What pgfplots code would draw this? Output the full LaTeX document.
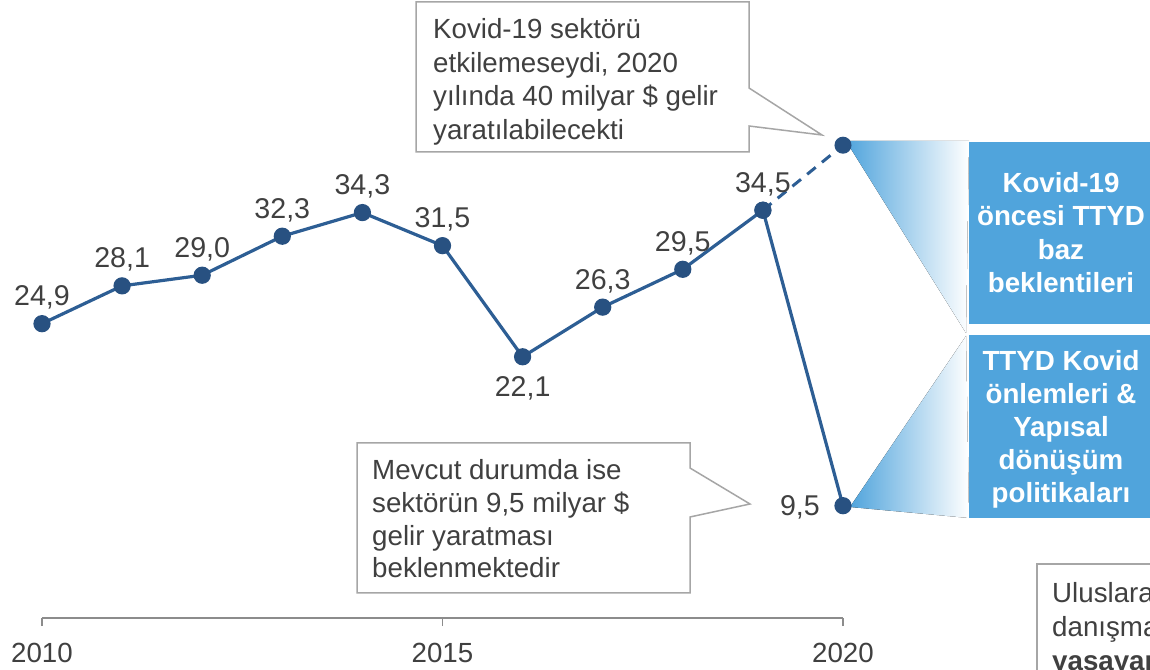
\documentclass[border=0pt]{standalone}
\usepackage{fontspec}
\setmainfont{Liberation Sans}
\usepackage{pgfplots}
\pgfplotsset{compat=1.18}
\definecolor{txt}{HTML}{404040}
\definecolor{linec}{HTML}{2D5E94}
\definecolor{markc}{HTML}{285181}
\definecolor{boxblue}{HTML}{50A4DC}
\definecolor{callgray}{HTML}{A6A6A6}
\definecolor{axgray}{HTML}{8C8C8C}
\newcommand\bigf{\fontsize{27.7bp}{33bp}\selectfont}
\newcommand\labf{\fontsize{28.6bp}{33bp}\selectfont}
\begin{document}
\begin{tikzpicture}
\path[use as bounding box] (0,0) rectangle (1150bp,670bp);
\clip (0,0) rectangle (1150bp,670bp);
% gradient wedges
\begin{scope}[x=1bp,y=-1bp,yshift=670bp]
\fill[left color=boxblue, right color=white] (846,141) -- (969,141) -- (966,333) -- cycle;
\fill[left color=boxblue, right color=white] (850,507) -- (966,336) -- (969,518) -- cycle;
\end{scope}
\begin{axis}[
  at={(42bp,52bp)}, anchor=south west,
  width=801bp, height=531.9bp, scale only axis,
  xmin=2010, xmax=2020, ymin=0, ymax=45,
  clip=false,
  axis x line*=bottom, axis y line=none,
  x axis line style={draw=axgray, line width=1.3bp},
  xtick={2010,2015,2020}, xticklabels={2010,2015,2020},
  xtick align=outside, major tick length=8bp,
  xtick style={draw=axgray, line width=1.3bp},
  xticklabel style={font=\bigf, text=txt, yshift=-14bp},
  ytick=\empty,
  every node near coord/.append style={font=\labf, text=txt, inner sep=0pt},
  nodes near coords={\pgfmathprintnumber[fixed,fixed zerofill,precision=1,use comma,assume math mode=true]{\pgfplotspointmeta}},
]
\addplot[linec, line width=3bp, dash pattern=on 11bp off 8bp, mark=*, mark size=7bp,
  mark options={solid, fill=markc, draw=markc}, nodes near coords={}] coordinates {(2019,34.5) (2020,40)};
\addplot[linec, line width=3.2bp, mark=*, mark size=7bp,
  mark options={fill=markc, draw=markc}, nodes near coords={}] coordinates {
(2010,24.9)(2011,28.1)(2012,29.0)(2013,32.3)(2014,34.3)(2015,31.5)(2016,22.1)(2017,26.3)(2018,29.5)(2019,34.5)(2020,9.5)};
% labels above
\addplot[draw=none, mark=none, every node near coord/.append style={anchor=base, yshift=18bp}] coordinates {
(2010,24.9)(2011,28.1)(2012,29.0)(2013,32.3)(2014,34.3)(2015,31.5)(2017,26.3)(2018,29.5)(2019,34.5)};
% label below
\addplot[draw=none, mark=none, every node near coord/.append style={anchor=base, yshift=-40bp}] coordinates {(2016,22.1)};
% label left
\addplot[draw=none, mark=none, every node near coord/.append style={anchor=base east, xshift=-23bp, yshift=-10bp}] coordinates {(2020,9.5)};
\end{axis}
\begin{scope}[x=1bp,y=-1bp,yshift=670bp]
% top callout
\draw[callgray, line width=1.5bp, fill=white] (416,2) -- (749,2) -- (749,88) -- (822,135) -- (749,126) -- (749,152) -- (416,152) -- cycle;
\foreach \t/\yy in {{Kovid-19 sektörü}/39, {etkilemeseydi, 2020}/73, {yılında 40 milyar \$ gelir}/106, {yaratılabilecekti}/140}
  \node[anchor=base west, inner sep=0pt, font=\bigf, text=txt] at (433,\yy) {\t};
% bottom callout
\draw[callgray, line width=1.5bp, fill=white] (357,443) -- (690,443) -- (690,468) -- (750,504) -- (690,517) -- (690,593) -- (357,593) -- cycle;
\foreach \t/\yy in {{Mevcut durumda ise}/480, {sektörün 9,5 milyar \$}/513, {gelir yaratması}/546, {beklenmektedir}/578}
  \node[anchor=base west, inner sep=0pt, font=\bigf, text=txt] at (372,\yy) {\t};
% blue boxes
\fill[boxblue] (969,142) rectangle (1153,324);
\fill[boxblue] (969,335) rectangle (1153,518);
\foreach \t/\yy in {{Kovid-19}/193, {öncesi TTYD}/226, {baz}/260, {beklentileri}/293,
  {TTYD Kovid}/371, {önlemleri \&}/404, {Yapısal}/437, {dönüşüm}/470, {politikaları}/503}
  \node[anchor=base, inner sep=0pt, font=\bigf\bfseries, text=white] at (1061,\yy) {\t};
% bottom right box (cropped at the picture's edge, as in the reference)
\draw[callgray, line width=1.5bp, fill=white] (1037,564) rectangle (1200,700);
\node[anchor=base west, inner sep=0pt, font=\bigf, text=txt] at (1052,603) {Uluslararası};
\node[anchor=base west, inner sep=0pt, font=\bigf, text=txt] at (1052,637) {danışmanlık};
\node[anchor=base west, inner sep=0pt, font=\bigf\bfseries, text=txt] at (1052,671) {yaşayan};
\end{scope}
\end{tikzpicture}
\end{document}
